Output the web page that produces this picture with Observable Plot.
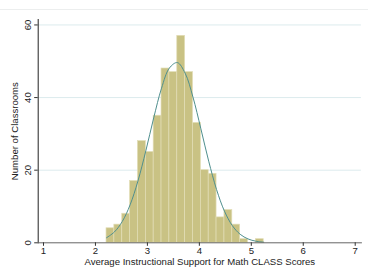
<!DOCTYPE html>
<html><head><meta charset="utf-8">
<script src="https://cdn.jsdelivr.net/npm/d3@7"></script>
<script src="https://cdn.jsdelivr.net/npm/@observablehq/plot@0.6"></script>
<style>
body{margin:0;background:#fff;}
#wrap{position:relative;width:368px;height:267px;}
#topline{position:absolute;left:0;top:9px;width:368px;border-top:1px solid #eceeee;}
svg{font-family:"Liberation Sans",Arial,sans-serif;}
</style></head>
<body><div id="wrap"><div id="topline"></div></div>
<script>
// Histogram bin edges (score) and counts
const binEdges = [2.213, 2.364, 2.516, 2.667, 2.818, 2.970, 3.121, 3.272, 3.423, 3.575, 3.726,
                  3.877, 4.029, 4.180, 4.331, 4.483, 4.634, 4.785, 4.936, 5.088, 5.239];
const counts = [4, 5, 8, 17, 28, 25, 35, 48, 47, 57, 47, 33, 20, 19, 7, 9, 5, 1, 0, 1];
// Normal density overlay (in counts), read at bin edges
const curveY = [1.39, 2.98, 5.86, 10.45, 17.02, 25.36, 34.39, 42.58, 48.12, 49.64, 46.72,
                40.13, 31.41, 22.47, 14.67, 8.72, 4.74, 2.35, 1.07, 0.44, 0.17];
const xTicks = [1, 2, 3, 4, 5, 6, 7];
const yTicks = [0, 20, 40, 60];
const xTitle = "Average Instructional Support for Math CLASS Scores";
const yTitle = "Number of Classrooms";

const bars = counts.map((c, i) => ({x1: binEdges[i], x2: binEdges[i + 1], y: c}));
const curve = binEdges.map((x, i) => ({x, y: curveY[i]}));

const chart = Plot.plot({
  width: 368, height: 267,
  marginLeft: 37.7, marginRight: 7.1, marginTop: 19, marginBottom: 24.7,
  style: {fontFamily: "Liberation Sans, Arial, sans-serif", fontSize: "9.6px", color: "#333"},
  x: {domain: [0.898, 7.119]},
  y: {domain: [0, 61.5]},
  marks: [
    Plot.gridY([20, 40, 60], {stroke: "#dcebed", strokeOpacity: 1, strokeWidth: 1}),
    Plot.rectY(bars, {x1: "x1", x2: "x2", y: "y", fill: "#c9c284", stroke: "#e2ddb6", strokeWidth: 0.7}),
    Plot.line(curve, {x: "x", y: "y", stroke: "#4f8f8e", strokeWidth: 1, curve: "catmull-rom"}),
    Plot.frame({anchor: "left", stroke: "#222", strokeWidth: 1}),
    Plot.frame({anchor: "bottom", stroke: "#666", strokeWidth: 1}),
    Plot.axisX(xTicks, {tickSize: 3.5, tickPadding: 1, stroke: "#333", fill: "#222",
      label: xTitle, labelAnchor: "center", labelArrow: "none", labelOffset: 22}),
    Plot.axisY(yTicks, {tickSize: 3.5, tickPadding: 3.5, tickRotate: -90, stroke: "#333", fill: "#222",
      label: yTitle, labelAnchor: "center", labelArrow: "none", labelOffset: 27})
  ]
});
document.getElementById("wrap").appendChild(chart);
</script></body></html>
